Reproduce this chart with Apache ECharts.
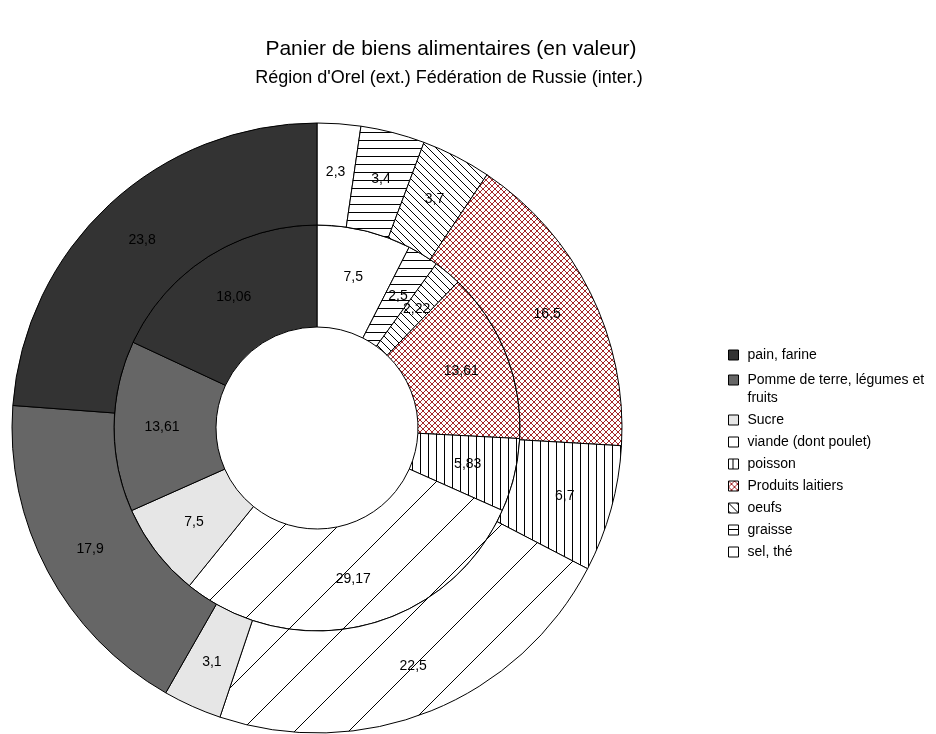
<!DOCTYPE html>
<html><head><meta charset="utf-8">
<script src="https://cdn.jsdelivr.net/npm/echarts@6/dist/echarts.min.js"></script>
<style>html,body{margin:0;padding:0;background:#fff}#c{width:936px;height:734px}</style>
</head><body><div id="c"></div>
<script>
// Legend order
const categories = ['pain, farine', 'Pomme de terre, légumes et fruits', 'Sucre', 'viande (dont poulet)', 'poisson', 'Produits laitiers', 'oeufs', 'graisse', 'sel, thé'];
// Outer ring: Région d'Orel
const orelValues = [23.8, 17.9, 3.1, 22.5, 6.7, 16.5, 3.7, 3.4, 2.3];
// Inner ring: Fédération de Russie
const russiaValues = [18.06, 13.61, 7.5, 29.17, 5.83, 13.61, 2.22, 2.5, 7.5];
const titleText = 'Panier de biens alimentaires (en valeur)';
const subtitleText = "Région d'Orel (ext.) Fédération de Russie (inter.)";

const FONT = "'Liberation Sans', Arial, sans-serif";

function makePattern(w, h, draw) {
  const c = document.createElement('canvas');
  c.width = w; c.height = h;
  const ctx = c.getContext('2d');
  ctx.fillStyle = '#ffffff';
  ctx.fillRect(0, 0, w, h);
  draw(ctx, w, h);
  return { image: c, repeat: 'repeat' };
}
const viandeFill = makePattern(54, 54, (ctx, w, h) => {
  ctx.strokeStyle = '#000'; ctx.lineWidth = 1;
  ctx.beginPath();
  ctx.moveTo(-2, h + 2); ctx.lineTo(w + 2, -2);
  ctx.moveTo(-2, 2); ctx.lineTo(2, -2);
  ctx.moveTo(w - 2, h + 2); ctx.lineTo(w + 2, h - 2);
  ctx.stroke();
});
const poissonFill = makePattern(8, 8, (ctx) => { ctx.fillStyle = '#000'; ctx.fillRect(4, 0, 1, 8); });
const graisseFill = makePattern(8, 8, (ctx) => { ctx.fillStyle = '#000'; ctx.fillRect(0, 4, 8, 1); });
const oeufsFill = makePattern(8, 8, (ctx) => { ctx.fillStyle = '#000'; for (let i = 0; i < 8; i++) ctx.fillRect(i, i, 1, 1); });
const laitFill = makePattern(6, 6, (ctx) => {
  ctx.fillStyle = '#a3282a';
  for (let i = 0; i < 6; i++) { ctx.fillRect(i, i, 1, 1); ctx.fillRect(i, 5 - i, 1, 1); }
});
const fills = ['#333333', '#666666', '#e6e6e6', viandeFill, poissonFill, laitFill, oeufsFill, graisseFill, '#ffffff'];

function ringData(values) {
  // drawn clockwise from 12 o'clock, starting with the last category
  const out = [];
  for (let i = categories.length - 1; i >= 0; i--) {
    out.push({ name: categories[i], value: values[i], itemStyle: { color: fills[i] } });
  }
  return out;
}
const fmt = p => String(p.value).replace('.', ',');
const common = {
  type: 'pie', center: [317, 428], startAngle: 90, clockwise: true,
  animation: false, avoidLabelOverlap: false, silent: true,
  itemStyle: { borderColor: '#000', borderWidth: 1 },
  label: { show: true, position: 'inside', formatter: fmt, color: '#000', fontSize: 14, fontFamily: FONT },
  labelLine: { show: false },
  labelLayout: { hideOverlap: false },
  minShowLabelAngle: 0,
  emphasis: { disabled: true }
};

const legendBase = {
  orient: 'vertical', left: 728, padding: 0, itemWidth: 10, itemHeight: 10, itemGap: 4,
  selectedMode: false, icon: 'rect',
  itemStyle: { borderColor: '#000', borderWidth: 1 },
  textStyle: { fontSize: 14, fontFamily: FONT, color: '#000', lineHeight: 18, padding: [0, 0, 0, 4] },
  formatter: n => n === categories[1] ? '\nPomme de terre, légumes et\nfruits' : n
};

const chart = echarts.init(document.getElementById('c'), null, { renderer: 'canvas' });
chart.setOption({
  backgroundColor: '#fff',
  animation: false,
  title: [
    { text: titleText, left: 451, textAlign: 'center', top: 39, padding: 0,
      textStyle: { fontSize: 21, fontWeight: 'normal', color: '#000', fontFamily: FONT } },
    { text: subtitleText, left: 449, textAlign: 'center', top: 69, padding: 0,
      textStyle: { fontSize: 18, fontWeight: 'normal', color: '#000', fontFamily: FONT } }
  ],
  legend: [
    Object.assign({}, legendBase, { top: 346, data: categories.slice(0, 1) }),
    Object.assign({}, legendBase, { top: 353, data: categories.slice(1) })
  ],
  series: [
    Object.assign({}, common, { name: 'Fédération de Russie', radius: [101, 203], data: ringData(russiaValues) }),
    Object.assign({}, common, { name: "Région d'Orel", radius: [203, 305], data: ringData(orelValues) })
  ]
});
</script></body></html>
